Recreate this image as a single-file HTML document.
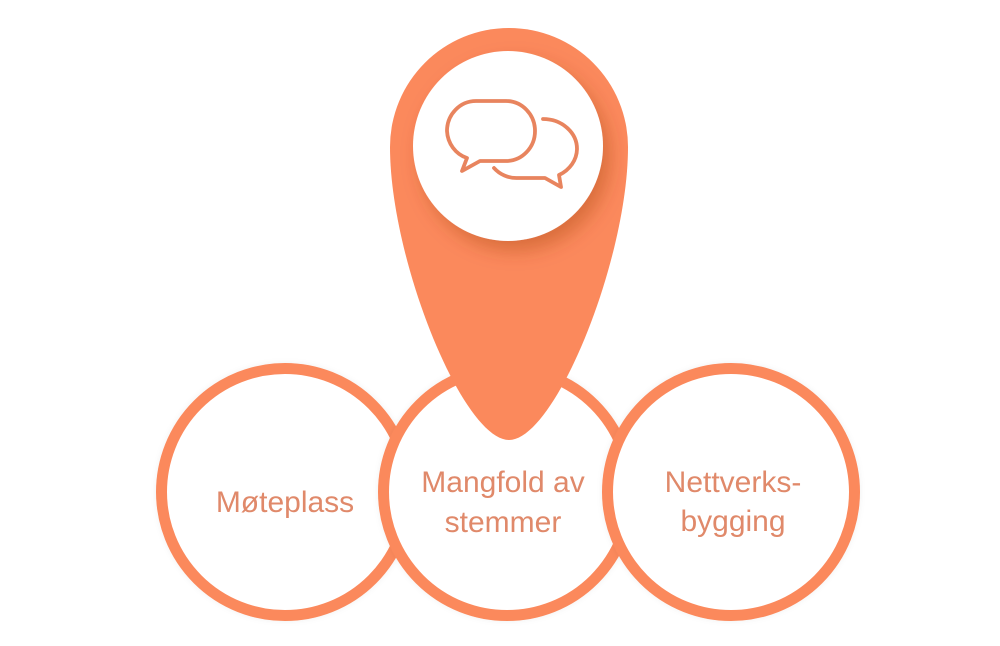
<!DOCTYPE html>
<html>
<head>
<meta charset="utf-8">
<style>
  html,body{margin:0;padding:0;background:#fff;}
  svg{display:block;}
  text{font-family:"Liberation Sans",sans-serif;fill:#e0896a;font-size:30px;}
</style>
</head>
<body>
<svg width="1000" height="646" viewBox="0 0 1000 646" xmlns="http://www.w3.org/2000/svg">
  <defs>
    <filter id="sh" x="-30%" y="-30%" width="160%" height="160%">
      <feDropShadow dx="7" dy="10" stdDeviation="9" flood-color="#9a3a10" flood-opacity="0.35"/>
    </filter>
    <filter id="cs" x="-10%" y="-10%" width="120%" height="120%">
      <feDropShadow dx="0" dy="0" stdDeviation="3" flood-color="#000" flood-opacity="0.06"/>
    </filter>
  </defs>

  <!-- circles -->
  <circle cx="285" cy="492" r="123.5" fill="#fff" stroke="#fb895c" stroke-width="11" filter="url(#cs)"/>
  <circle cx="507" cy="492" r="123.5" fill="#fff" stroke="#fb895c" stroke-width="11" filter="url(#cs)"/>
  <circle cx="731" cy="492" r="123.5" fill="#fff" stroke="#fb895c" stroke-width="11" filter="url(#cs)"/>

  <!-- drop -->
  <path d="M 390 147 A 119 119 0 0 1 628 147 C 628 260 555 440 509 440 C 463 440 390 260 390 147 Z" fill="#fb895c"/>

  <!-- white circle with shadow -->
  <circle cx="508" cy="146" r="95" fill="#fff" filter="url(#sh)"/>

  <!-- chat icon -->
  <g fill="none" stroke="#e8845e" stroke-width="3.8" stroke-linejoin="round" stroke-linecap="round">
    <path d="M 480 161 H 506 A 29 30 0 0 0 535 131 A 29 30 0 0 0 506 101 H 476 A 29 30 0 0 0 447 131 A 29 30 0 0 0 467 158 L 462 171 Z"/>
    <path d="M 543 119 A 34 30 0 0 1 577 149 A 34 30 0 0 1 559 175 L 561 187 L 545 178 H 517 A 30 30 0 0 1 494 168"/>
  </g>

  <!-- labels -->
  <text x="285" y="512" text-anchor="middle">Møteplass</text>
  <text x="503" y="492" text-anchor="middle">Mangfold av</text>
  <text x="503" y="532" text-anchor="middle">stemmer</text>
  <text x="733" y="492" text-anchor="middle">Nettverks-</text>
  <text x="733" y="531" text-anchor="middle">bygging</text>
</svg>
</body>
</html>
